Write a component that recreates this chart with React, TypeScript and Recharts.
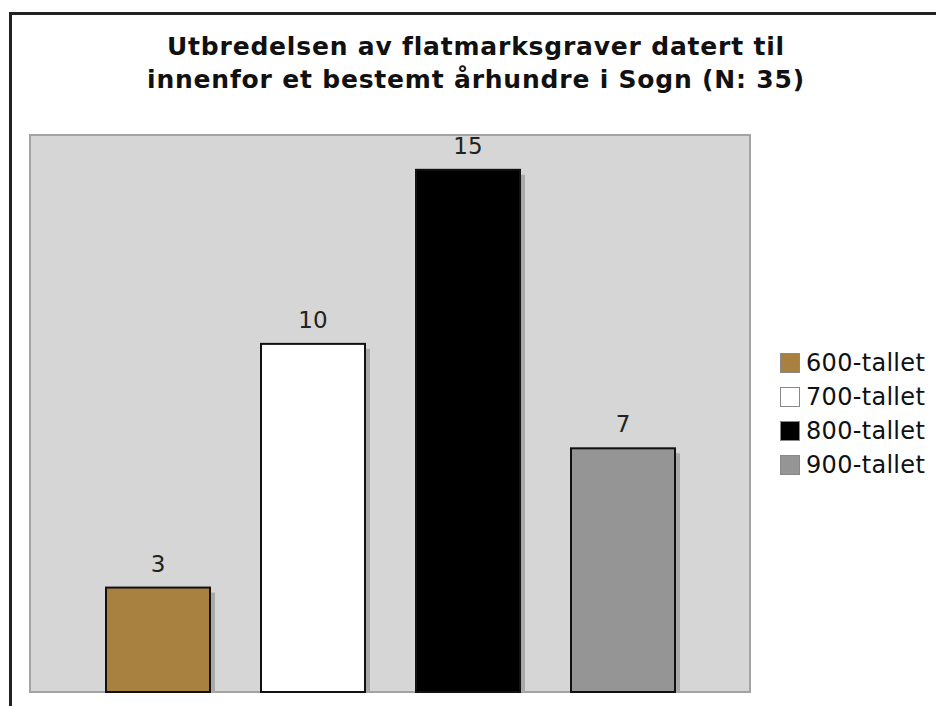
import React from 'react';
import { BarChart, Bar, XAxis, YAxis, CartesianGrid, Legend, LabelList } from 'recharts';

const centuries = ['600-tallet', '700-tallet', '800-tallet', '900-tallet'];
const counts = [3, 10, 15, 7];
const colors = ['#a8803f', '#ffffff', '#000000', '#959595'];
const titleLines = ['Utbredelsen av flatmarksgraver datert til', 'innenfor et bestemt århundre i Sogn (N: 35)'];

const row: Record<string, string | number> = { name: 'Sogn' };
centuries.forEach((c, i) => { row[c] = counts[i]; });
const data = [row];

const font = '"DejaVu Sans", Verdana, sans-serif';

// bar with a soft grey drop shadow to the right
const ShadowBar = (props: any) => {
  const { x, y, width, height, fill } = props;
  if (!height || height <= 0) return null;
  return (
    <g>
      <rect x={x + 5} y={y + 5} width={width} height={height - 5} fill="#a9a9a9" />
      <rect x={x} y={y} width={width} height={height} fill={fill} stroke="#111" strokeWidth={2} />
    </g>
  );
};

const LegendBox = ({ payload }: any) => (
  <div>
    {(payload || []).map((p: any) => (
      <div key={p.value} style={{ display: 'flex', alignItems: 'center', height: 34, fontFamily: font, fontSize: 24, color: '#111', letterSpacing: 0.3 }}>
        <span style={{ display: 'inline-block', width: 20, height: 20, background: p.color, border: '1px solid #888', marginRight: 6, boxSizing: 'border-box' }} />
        {p.value}
      </div>
    ))}
  </div>
);

export default function App() {
  return (
    <div style={{ position: 'absolute', left: 0, top: 0, width: 936, height: 706, background: '#fff' }}>
      <style>{`.recharts-cartesian-grid-bg { stroke: #a3a3a3; stroke-width: 2px; }`}</style>
      <div style={{ position: 'absolute', left: 9, top: 12, width: 940, height: 700, borderLeft: '3px solid #222', borderTop: '3px solid #222' }} />
      <div style={{ position: 'absolute', left: 0, width: 952, top: 30, textAlign: 'center', fontFamily: font, fontWeight: 'bold', fontSize: 25, letterSpacing: 0.8, lineHeight: '33px', color: '#111' }}>
        {titleLines.map((t) => <div key={t}>{t}</div>)}
      </div>
      <BarChart width={936} height={706} data={data} margin={{ top: 135, right: 30, bottom: 14, left: 30 }}
        barSize={104} barGap={51} style={{ position: 'absolute', left: 0, top: 0 }}>
        <CartesianGrid horizontal={false} vertical={false} fill="#d6d6d6" />
        <XAxis dataKey="name" hide />
        <YAxis hide domain={[0, 16]} />
        <Legend layout="vertical" align="right" verticalAlign="top" content={<LegendBox />}
          wrapperStyle={{ left: 780, top: 346, width: 156 }} />
        {centuries.map((c, i) => (
          <Bar key={c} dataKey={c} fill={colors[i]} shape={<ShadowBar />} isAnimationActive={false}>
            <LabelList dataKey={c} position="top" offset={16} fill="#222" fontSize={23} fontFamily={font} />
          </Bar>
        ))}
      </BarChart>
    </div>
  );
}
